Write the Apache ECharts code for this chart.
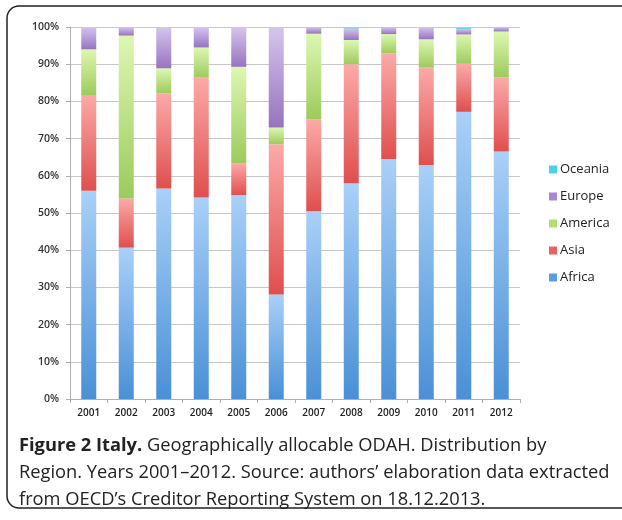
<!DOCTYPE html>
<html>
<head>
<meta charset="utf-8">
<script src="https://cdn.jsdelivr.net/npm/echarts@6/dist/echarts.min.js"></script>
<style>
  html, body { margin: 0; padding: 0; background: #fff; }
  #chart { width: 622px; height: 520px; }
</style>
</head>
<body>
<div id="chart"></div>
<script>
// Share of geographically allocable ODAH by region (percent of yearly total)
const years = ['2001','2002','2003','2004','2005','2006','2007','2008','2009','2010','2011','2012'];
const africa  = [56.0, 40.7, 56.6, 54.2, 54.8, 28.1, 50.5, 58.0, 64.5, 62.9, 77.2, 66.5];
const asia    = [25.7, 13.2, 25.6, 32.2,  8.6, 40.4, 24.7, 32.0, 28.4, 26.2, 12.9, 20.0];
const america = [12.3, 43.8,  6.7,  8.1, 25.9,  4.5, 23.0,  6.5,  5.2,  7.6,  7.9, 12.3];
const europe  = [ 6.0,  2.3, 11.1,  5.5, 10.7, 27.0,  1.8,  3.1,  1.9,  3.3,  1.5,  1.2];
const oceania = [ 0,    0,    0,    0,    0,    0,    0,    0.4,  0,    0,    0.5,  0  ];
const yTicks  = [0, 10, 20, 30, 40, 50, 60, 70, 80, 90, 100];

const caption = [
  '{b|Figure 2 Italy.} Geographically allocable ODAH. Distribution by',
  'Region. Years 2001\u20132012. Source: authors\u2019 elaboration data extracted',
  'from OECD\u2019s Creditor Reporting System on 18.12.2013.'
];

// vertical gradient: light at the top of each segment, deeper at the bottom
function grad(top, bottom) {
  return { type: 'linear', x: 0, y: 0, x2: 0, y2: 1,
    colorStops: [{ offset: 0, color: top }, { offset: 1, color: bottom }] };
}

const regions = [
  { name: 'Africa',  data: africa,  top: '#a9d0f8', bottom: '#4a90d6', solid: '#5b9ee0' },
  { name: 'Asia',    data: asia,    top: '#fbaaa8', bottom: '#df4f4e', solid: '#e86262' },
  { name: 'America', data: america, top: '#ddf7b2', bottom: '#9ccb5c', solid: '#b2dc78' },
  { name: 'Europe',  data: europe,  top: '#d6c5ee', bottom: '#9674bf', solid: '#a98ad0' },
  { name: 'Oceania', data: oceania, top: '#9ee8f5', bottom: '#3fc6e2', solid: '#4fd0e8' }
];

const chart = echarts.init(document.getElementById('chart'), null, { renderer: 'canvas' });

chart.setOption({
  animation: false,
  backgroundColor: '#fff',
  textStyle: { fontFamily: 'Open Sans, DejaVu Sans, sans-serif' },
  grid: { left: 70, right: 102, top: 27, bottom: 121 },
  legend: {
    orient: 'vertical',
    left: 544,
    top: 158,
    itemGap: 14,
    itemWidth: 8,
    itemHeight: 8,
    icon: 'rect',
    data: regions.map(r => ({ name: r.name, itemStyle: { color: r.solid } })).reverse(),
    textStyle: { fontSize: 13, color: '#222', padding: [0, 0, 0, -2], fontFamily: 'Open Sans, sans-serif' }
  },
  xAxis: {
    type: 'category',
    data: years,
    axisLine: { lineStyle: { color: '#b0b0b0', width: 1 } },
    axisTick: { show: true, alignWithLabel: false, length: 4, lineStyle: { color: '#b0b0b0' } },
    axisLabel: { fontSize: 10, color: '#222', margin: 9, fontWeight: 600, fontFamily: 'Open Sans, sans-serif' }
  },
  yAxis: {
    type: 'value',
    min: yTicks[0],
    max: yTicks[yTicks.length - 1],
    interval: 10,
    axisLine: { show: true, lineStyle: { color: '#b0b0b0', width: 1 } },
    axisTick: { show: true, length: 4, lineStyle: { color: '#b0b0b0' } },
    splitLine: { lineStyle: { color: '#c8c8c8', width: 1 } },
    axisLabel: { formatter: '{value}%', fontSize: 10.5, color: '#333', margin: 11, fontWeight: 600, fontFamily: 'Open Sans, sans-serif' }
  },
  series: regions.map(r => ({
    name: r.name,
    type: 'bar',
    stack: 'share',
    barWidth: 15,
    data: r.data,
    itemStyle: { color: grad(r.top, r.bottom) },
    emphasis: { disabled: true }
  })),
  graphic: [
    {
      type: 'rect',
      shape: { x: 7, y: 6, width: 640, height: 502, r: 12 },
      style: { fill: 'none', stroke: '#222', lineWidth: 1.5 },
      z: -1
    },
    {
      type: 'text',
      left: 19,
      top: 432,
      style: {
        text: caption.join('\n'),
        fill: '#222',
        font: '18.3px "Open Sans", sans-serif',
        lineHeight: 27,
        rich: {
          b: { fontWeight: 'bold', fontSize: 18.3, fontFamily: 'Open Sans, sans-serif', fill: '#222' }
        }
      }
    }
  ]
});
</script>
</body>
</html>
